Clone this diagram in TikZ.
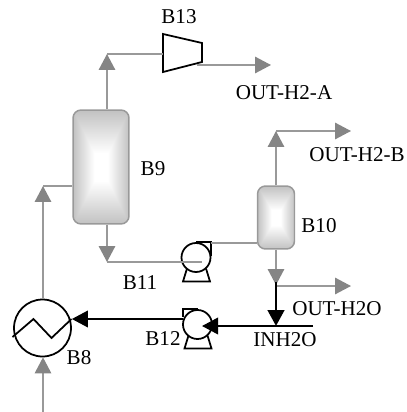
\documentclass[tikz,border=0pt]{standalone}
\usepackage{fontspec}
\setmainfont{Liberation Serif}
\usetikzlibrary{arrows.meta,calc}
\pgfdeclarefunctionalshading{boxglow}{\pgfpoint{-50bp}{-50bp}}{\pgfpoint{50bp}{50bp}}{}{%
  abs exch abs 2 copy gt {pop} {exch pop} ifelse
  6 sub dup 0 lt {pop 0} if 30 div dup 1 gt {pop 1} if 0.38 mul 1 exch sub dup dup
}
\definecolor{streamgray}{HTML}{999999}
\definecolor{headgray}{HTML}{858585}
\tikzset{
  lbl/.style={inner sep=0pt,font=\fontsize{12}{14}\selectfont},
  column/.style={shape=rectangle,rounded corners=1.6mm,draw=streamgray,line width=0.85pt,shading=boxglow,inner sep=0pt},
  unit/.style={shape=circle,draw=black,line width=1pt,inner sep=0pt},
  gline/.style={draw=streamgray,line width=0.85pt},
  garrow/.style={gline,-{Triangle[length=3.2mm,width=3.3mm,color=headgray]}},
  bline/.style={draw=black,line width=1.1pt},
  barrow/.style={bline,-{Triangle[length=3.2mm,width=3.3mm,color=black]}},
}
\newcommand{\pumpbase}[1]{% legs and foot of a pump, centered on node (#1)
  \draw[line width=1pt] ($(#1)+(-9,11)$) -- ($(#1)+(-13,24)$) -- ($(#1)+(14,24)$) -- ($(#1)+(10,11)$);
}
\begin{document}
\begin{tikzpicture}[x=0.02cm,y=-0.02cm]
  \useasboundingbox (0,0) rectangle (406,412);
  % units
  \node[column,minimum width=1.12cm,minimum height=2.28cm] (B9) at (101,167) {};
  \node[column,minimum width=0.74cm,minimum height=1.26cm] (B10) at (276,217.5) {};
  \node[unit,minimum size=1.14cm] (B8) at (42.5,328) {};
  \node[unit,minimum size=0.58cm] (B11) at (196,257.5) {};
  \node[unit,minimum size=0.58cm] (B12) at (197.5,324.5) {};
  \draw[line width=1pt] (B8.center) ++(-30,9) -- ++(21,-18) -- ++(18,19) -- ++(20,-19);
  \draw[line width=1pt] (163,34) -- (202,43) -- (202,62) -- (163,72) -- cycle;
  \node[inner sep=0pt,minimum width=0.78cm,minimum height=0.76cm] (B13) at (182.5,53) {};
  \pumpbase{B11}
  \pumpbase{B12}
  \draw[line width=1pt] (B11.north) -- ++(15,0) -- ++(0,14);
  \draw[line width=1pt] (B12.north) -- ++(-14.5,0) -- ++(0,8);
  % streams
  \coordinate (feed) at (43,412);
  \coordinate (feedB9) at (43,186);
  \coordinate (topB9) at (107,54);
  \coordinate (botB9) at (107,262);
  \coordinate (topB10) at (276,131);
  \coordinate (botB10) at (276,285);
  \coordinate (endA) at (271,65);
  \coordinate (endB) at (351,131);
  \coordinate (endW) at (351,286);
  \coordinate (inW) at (313,326);
  \draw[garrow] (feed) -- (B8.south -| feed);
  \draw[garrow] (B8.north -| feedB9) -- (feedB9);
  \draw[gline] (feedB9) -- (feedB9 -| B9.west);
  \draw[garrow] (topB9 |- B9.north) -- (topB9);
  \draw[gline] (topB9) -- (B13.west |- topB9);
  \draw[garrow] (197,65) -- (endA);
  \draw[garrow] (botB9 |- B9.south) -- (botB9);
  \draw[gline] (botB9) -- (202,262);
  \draw[gline] (211,243) -- (B10.west |- 211,243);
  \draw[garrow] (B10.north) -- (topB10);
  \draw[garrow] (topB10) -- (endB);
  \draw[garrow] (B10.south) -- (botB10);
  \draw[garrow] (276,286) -- (endW);
  \draw[barrow,line width=1.7pt] (276,282) -- (276,326);
  \draw[barrow] (inW) -- (202,326);
  \draw[barrow] (183,319) -- (B8.east |- 183,319);
  % labels
  \node[lbl] (lblB13) at (179,17) {B13};
  \node[lbl] (lblA) at (284,93) {OUT-H2-A};
  \node[lbl] (lblB9) at (153,169) {B9};
  \node[lbl] (lblB10) at (319,226) {B10};
  \node[lbl] (lblB) at (357,155) {OUT-H2-B};
  \node[lbl] (lblW) at (337,309) {OUT-H2O};
  \node[lbl] (lblIn) at (285,340) {INH2O};
  \node[lbl] (lblB11) at (140,283) {B11};
  \node[lbl] (lblB12) at (163,339) {B12};
  \node[lbl] (lblB8) at (79,358) {B8};
\end{tikzpicture}
\end{document}
